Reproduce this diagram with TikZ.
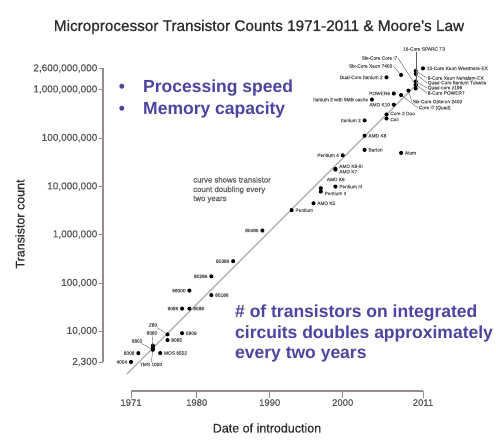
\documentclass[tikz,border=0pt]{standalone}
\usepackage{fontspec}
\setmainfont{Liberation Sans}
\newfontfamily\heavyfont[FakeBold=0.9]{Liberation Sans}
\newfontfamily\semifont[FakeBold=0.5]{Liberation Sans}
\usetikzlibrary{positioning}

\definecolor{ink}{RGB}{45,45,45}
\definecolor{blurb}{RGB}{76,68,160}
\definecolor{axisc}{RGB}{150,140,140}
\definecolor{trendc}{RGB}{178,170,170}
\definecolor{labc}{RGB}{95,95,95}
\definecolor{tickc}{RGB}{85,85,85}

% place one processor: name, year, mantissa, decimal exponent of the transistor count
\newcommand\chip[4]{%
  \pgfmathsetmacro\chipx{131+(#2-1971)*7.3}%
  \pgfmathsetmacro\chipy{331-(log10(#3)+#4-4)*48.5}%
  \node[dot] (#1) at (\chipx,\chipy) {};}

\begin{document}
\begin{tikzpicture}[x=1pt,y=-1pt,
  dot/.style={circle,fill=black,inner sep=0pt,minimum size=4.1pt},
  lab/.style={font=\semifont\fontsize{4.8}{5.4}\selectfont,text=labc,inner sep=0.6pt},
  leader/.style={draw=labc,line width=0.4pt},
  axisline/.style={draw=axisc,line width=1.3pt},
  ticklab/.style={font=\semifont\fontsize{10}{12}\selectfont,text=tickc,anchor=east,inner sep=1.5pt},
  yearlab/.style={font=\semifont\fontsize{9.5}{11}\selectfont,text=tickc,anchor=north,inner sep=1pt},
  axtitle/.style={font=\semifont\fontsize{12.5}{14}\selectfont,text=ink},
  blurbtxt/.style={font=\fontsize{17.5}{20}\selectfont\bfseries,text=blurb,inner sep=0pt,anchor=base west},
  note/.style={font=\semifont\fontsize{7.8}{9}\selectfont,text=labc,inner sep=0pt,anchor=base west}]

\path[use as bounding box,fill=white] (0,0) rectangle (496,440);

% title
\node[font=\heavyfont\fontsize{15.3}{18}\selectfont,text=ink] (title) at (259,27)
  {Microprocessor Transistor Counts 1971-2011 \& Moore's Law};

% axes
\coordinate (yTop) at (103,68);
\coordinate (yBot) at (103,362);
\draw[axisline] (yTop) -- (yBot);
\coordinate (xL) at (131,391);
\coordinate (xR) at (423,391);
\draw[axisline] (xL) -- (xR);

% vertical scale
\node[ticklab] (t26) at (99,68.4) {2,600,000,000};
\node[ticklab] (t9) at (99,89.5) {1,000,000,000};
\node[ticklab] (t8) at (99,138) {100,000,000};
\node[ticklab] (t7) at (99,186.5) {10,000,000};
\node[ticklab] (t6) at (99,234.5) {1,000,000};
\node[ticklab] (t5) at (99,283) {100,000};
\node[ticklab] (t4) at (99,331) {10,000};
\node[ticklab] (t23) at (99,362) {2,300};
\foreach \t in {t26,t9,t8,t7,t6,t5,t4,t23}
  \draw[axisline,line width=1pt] (\t.east) -- (\t.east -| yTop);

% horizontal scale
\node[yearlab] (y71) at (131,398) {1971};
\node[yearlab] (y80) at (196.7,398) {1980};
\node[yearlab] (y90) at (269.7,398) {1990};
\node[yearlab] (y00) at (342.7,398) {2000};
\node[yearlab] (y11) at (423,398) {2011};
\foreach \t in {y71,y80,y90,y00,y11}
  \draw[axisline,line width=1pt] (\t.north |- xL) -- (\t.north);

\node[axtitle,rotate=90] (ytitle) at (20,224) {Transistor count};
\node[axtitle] (xtitle) at (267,428) {Date of introduction};

% doubling every two years
\coordinate (trendA) at (127,374);
\coordinate (trendB) at (414,87);
\draw[draw=trendc,line width=1.2pt] (trendA) -- (trendB);

\node[note] (n1) at (193,182.5) {curve shows transistor};
\node[note] (n2) at (193,192) {count doubling every};
\node[note] (n3) at (193,201) {two years};

% processors
\chip{p4004}{1971}{2.3}{3}
\chip{p8008}{1972}{3.5}{3}
\chip{p6800}{1974}{4.1}{3}
\chip{p8080}{1974}{4.5}{3}
\chip{p1802}{1974}{5.0}{3}
\chip{p6502}{1975}{3.51}{3}
\chip{pz80}{1976}{8.5}{3}
\chip{p8085}{1976}{6.5}{3}
\chip{p6809}{1978}{9.0}{3}
\chip{p8086}{1978}{2.9}{4}
\chip{p8088}{1979}{2.9}{4}
\chip{p68000}{1979}{6.8}{4}
\chip{p80186}{1982}{5.5}{4}
\chip{p80286}{1982}{1.34}{5}
\chip{p80386}{1985}{2.75}{5}
\chip{p80486}{1989}{1.18}{6}
\chip{pPent}{1993}{3.1}{6}
\chip{pK5}{1996}{4.3}{6}
\chip{pP2}{1997}{7.5}{6}
\chip{pK6}{1997}{8.8}{6}
\chip{pP3}{1999}{9.5}{6}
\chip{pK63}{1999}{2.13}{7}
\chip{pK7}{1999}{2.2}{7}
\chip{pP4}{2000}{4.2}{7}
\chip{pBarton}{2003}{5.43}{7}
\chip{pAtom}{2008}{4.7}{7}
\chip{pK8}{2003}{1.059}{8}
\chip{pIt2}{2003}{2.2}{8}
\chip{pCell}{2006}{2.41}{8}
\chip{pC2D}{2006}{2.91}{8}
\chip{pK10}{2007}{4.63}{8}
\chip{pIt9}{2004}{5.92}{8}
\chip{pi7q}{2008}{7.31}{8}
\chip{pP6}{2007}{7.89}{8}
\chip{pOpt}{2009}{9.04}{8}
\chip{pi76}{2010}{1.17}{9}
\chip{pX74}{2008}{1.9}{9}
\chip{pDIt}{2006}{1.7}{9}
\chip{pNeh}{2010}{2.3}{9}
\chip{pTuk}{2010}{2.0}{9}
\chip{pT3}{2010}{1.0}{9}
\chip{pz196}{2010}{1.4}{9}
\chip{pP7}{2010}{1.2}{9}
\chip{pWest}{2011}{2.6}{9}

% labels, early chips
\node[lab,left=0.8pt of p4004] (l4004) {4004};
\node[lab,left=0.8pt of p8008] (l8008) {8008};
\node[lab] (lz80) at (153,325) {Z80};
\draw[leader] (lz80) -- (pz80);
\node[lab] (l8080) at (152,333) {8080};
\draw[leader] (l8080) -- (p8080);
\node[lab] (l6800) at (137,341) {6800};
\draw[leader] (l6800) -- (p6800);
\node[lab] (ltms) at (151,364.5) {TMS 1000};
\draw[leader] (ltms) -- (p6800);
\node[lab,right=0.8pt of p6502] (l6502) {MOS 6502};
\node[lab,right=0.8pt of p8085] (l8085) {8085};
\node[lab,right=0.8pt of p6809] (l6809) {6809};
\node[lab,left=0.8pt of p8086] (l8086) {8086};
\node[lab,right=0.8pt of p8088] (l8088) {8088};
\node[lab,left=0.8pt of p68000] (l68000) {68000};
\node[lab,right=0.8pt of p80186] (l80186) {80186};
\node[lab,left=0.8pt of p80286] (l80286) {80286};
\node[lab,left=0.8pt of p80386] (l80386) {80386};
\node[lab,left=0.8pt of p80486] (l80486) {80486};

% labels, middle years
\node[lab,right=0.8pt of pPent] (lPent) {Pentium};
\node[lab,right=0.8pt of pK5] (lK5) {AMD K5};
\node[lab,right=0.8pt of pP2,yshift=-1.8pt] (lP2) {Pentium II};
\node[lab,anchor=west] (lK6) at (326,179.5) {AMD K6};
\node[lab,right=0.8pt of pP3] (lP3) {Pentium III};
\node[lab,right=0.8pt of pK63,yshift=0.6pt,align=left] (lK63) {AMD K6-III\\AMD K7};
\node[lab,left=0.8pt of pP4] (lP4) {Pentium 4};
\node[lab,right=0.8pt of pBarton] (lBarton) {Barton};
\node[lab,right=0.8pt of pAtom] (lAtom) {Atom};
\node[lab,right=0.8pt of pK8] (lK8) {AMD K8};
\node[lab,left=0.8pt of pIt2] (lIt2) {Itanium 2};
\node[lab,right=0.8pt of pC2D,yshift=1pt] (lC2D) {Core 2 Duo};
\node[lab,right=0.8pt of pCell,yshift=-1pt] (lCell) {Cell};

% labels, recent chips
\node[lab,left=0.8pt of pK10] (lK10) {AMD K10};
\node[lab,left=0.8pt of pIt9] (lIt9) {Itanium 2 with 9MB cache};
\node[lab,left=0.8pt of pP6] (lP6) {POWER6};
\node[lab,left=0.8pt of pDIt] (lDIt) {Dual-Core Itanium 2};
\node[lab,anchor=east] (lX74) at (393,66) {Six-Core Xeon 7400};
\draw[leader] (lX74.east) -- (pX74);
\node[lab,anchor=east] (li76) at (398,58) {Six-Core Core i7};
\draw[leader] (li76.east) -- (pi76);
\node[lab] (lT3) at (424,49) {16-Core SPARC T3};
\draw[leader] (lT3.south -| pT3) -- (pT3);
\node[lab,right=0.8pt of pWest] (lWest) {10-Core Xeon Westmere-EX};
\node[lab,anchor=west] (lNeh) at (427,78) {8-Core Xeon Nehalem-EX};
\node[lab,anchor=west] (lTuk) at (427,83) {Quad-Core Itanium Tukwila};
\node[lab,anchor=west] (lz196) at (427,88) {Quad-core z196};
\node[lab,anchor=west] (lP7) at (427,93) {8-Core POWER7};
\draw[leader] (lNeh.west) -- (pNeh);
\draw[leader] (lTuk.west) -- (pTuk);
\draw[leader] (lz196.west) -- (pz196);
\draw[leader] (lP7.west) -- (pP7);
\node[lab,anchor=west] (lOpt) at (412,102) {Six-Core Opteron 2400};
\draw[leader] (lOpt.west) -- (pOpt);
\node[lab,anchor=west] (li7q) at (418,108) {Core i7 (Quad)};
\draw[leader] (li7q.west) -- (pi7q);

% captions
\node[blurbtxt,anchor=base] (b1) at (122,92.8) {•};
\node[blurbtxt] (speed) at (143,92.8) {Processing speed};
\node[blurbtxt,anchor=base] (b2) at (122,114.5) {•};
\node[blurbtxt] (memory) at (143,114.5) {Memory capacity};

\node[blurbtxt] (law1) at (235,317.5) {\# of transistors on integrated};
\node[blurbtxt] (law2) at (235,338) {circuits doubles approximately};
\node[blurbtxt] (law3) at (235,358.5) {every two years};
\end{tikzpicture}
\end{document}
